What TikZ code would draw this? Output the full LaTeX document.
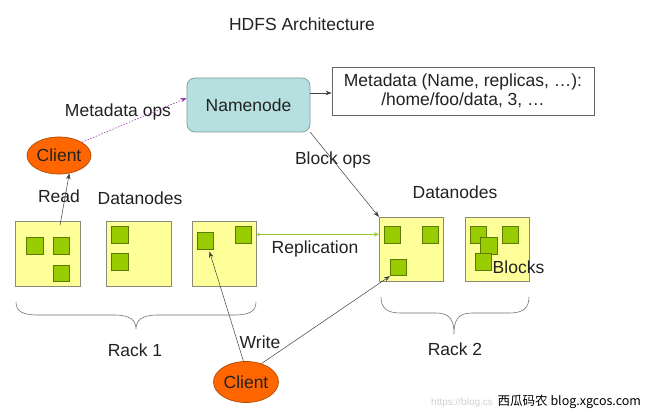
\documentclass[tikz,border=0pt]{standalone}
\usepackage{fontspec}
\setmainfont{Liberation Sans}
\newfontfamily\cjkfont{Noto Sans CJK SC}
\usetikzlibrary{arrows.meta,shapes.geometric,calc}
\definecolor{dnfill}{HTML}{FFFF99}
\definecolor{dnline}{HTML}{8A8A7A}
\definecolor{blkfill}{HTML}{99CC00}
\definecolor{blkline}{HTML}{5C7A00}
\definecolor{nnfill}{HTML}{B6DFE0}
\definecolor{nnline}{HTML}{7F9C9C}
\definecolor{clfill}{HTML}{FF6600}
\definecolor{clline}{HTML}{B04A00}
\definecolor{txt}{HTML}{222222}
\definecolor{opsline}{HTML}{9933AA}
\definecolor{repline}{HTML}{99CC33}
\tikzset{
  lbl/.style={text=txt, inner sep=0pt},
  dnbox/.style={draw=dnline, fill=dnfill, line width=0.7pt, minimum width=64.5pt, minimum height=64.5pt, inner sep=0pt},
  blk/.style={draw=blkline, fill=blkfill, line width=0.7pt, minimum width=16.5pt, minimum height=16.5pt, inner sep=0pt},
  client/.style={ellipse, draw=clline, fill=clfill, line width=0.7pt, inner sep=0pt, text=txt},
  arr/.style={draw=black!75, line width=0.5pt, -{Stealth[length=6pt,width=4.5pt]}},
  opsarr/.style={draw=opsline, line width=0.6pt, dash pattern=on 1.5pt off 1.5pt, -{Stealth[length=6pt,width=4.5pt]}},
  reparr/.style={draw=repline, line width=0.8pt, {Circle[length=3pt]}-{Stealth[length=5pt,width=4.5pt]}},
  bracepath/.style={draw=black!55, line width=0.6pt}
}
\begin{document}
\begin{tikzpicture}[x=1pt,y=-1pt, font=\fontsize{17.5}{19}\selectfont]
\useasboundingbox (0,0) rectangle (646,414);
\fill[white] (0,0) rectangle (646,414);

% title
\node[lbl] (title) at (302,24) {HDFS Architecture};

% namenode and metadata
\node[draw=nnline, fill=nnfill, line width=0.7pt, rounded corners=8pt, minimum width=123pt, minimum height=54pt, inner sep=0pt, text=txt] (nn) at (248.5,105) {Namenode};
\node[draw=black!60, fill=white, line width=0.7pt, minimum width=262pt, minimum height=48pt, inner sep=0pt, align=center, text=txt, font=\fontsize{17.5}{18.5}\selectfont] (meta) at (463,91) {Metadata (Name, replicas, \dots):\\/home/foo/data, 3, \dots};

% clients
\node[client, minimum width=64pt, minimum height=37pt] (c1) at (59,155.5) {Client};
\node[client, minimum width=65pt, minimum height=41pt] (c2) at (246,382) {Client};

% datanodes rack 1
\node[dnbox] (r1a) at (48,254) {};
\node[dnbox] (r1b) at (139,254) {};
\node[dnbox] (r1c) at (224.5,254) {};
% datanodes rack 2
\node[dnbox] (r2a) at (411.5,249.5) {};
\node[dnbox] (r2b) at (497.5,249.5) {};

% blocks
\node[blk] (b1a) at (35,246) {};
\node[blk] (b1b) at (61.5,246) {};
\node[blk] (b1c) at (61.5,273.5) {};
\node[blk] (b2a) at (120,235) {};
\node[blk] (b2b) at (120,262) {};
\node[blk] (b3a) at (205.5,241) {};
\node[blk] (b3b) at (243.5,235) {};
\node[blk] (b4a) at (392.5,235) {};
\node[blk] (b4b) at (430.5,235) {};
\node[blk] (b4c) at (398.5,267.5) {};
\node[blk] (b5a) at (478.5,235) {};
\node[blk] (b5b) at (489,246) {};
\node[blk] (b5c) at (483.5,262) {};
\node[blk] (b5d) at (510.5,235) {};

% labels
\node[lbl] (lmops) at (118,112) {Metadata ops};
\node[lbl] (lread) at (59,196) {Read};
\node[lbl] (ldn1) at (140,198) {Datanodes};
\node[lbl] (ldn2) at (455,192) {Datanodes};
\node[lbl] (lbops) at (333,160) {Block ops};
\node[lbl] (lrep) at (315,249) {Replication};
\node[lbl] (lblocks) at (518.5,267) {Blocks};
\node[lbl] (lwrite) at (260,342) {Write};
\node[lbl] (lrack1) at (135,350) {Rack 1};
\node[lbl] (lrack2) at (455,349) {Rack 2};

% connectors
\draw[arr] ([yshift=12pt]nn.east) -- ([yshift=12pt]nn.east -| meta.west);
\draw[opsarr] (c1.30) -- ([yshift=7pt]nn.west);
\draw[arr] ([xshift=12pt,yshift=-4pt]r1a.north) -- (c1.-60);
\draw[arr] (nn.south east) -- (r2a.north west);
\draw[reparr] ([yshift=-13pt]r1c.north east) -- ([yshift=-13pt]r1c.north east -| r2a.west);
\draw[arr] (c2.97) -- ([xshift=4pt,yshift=-2pt]b3a.south);
\draw[arr] (c2.50) -- (b4c.south west);

% braces
\draw[bracepath] (16,302) .. controls (16,311) and (22,315) .. (38,315) -- (114,315)
  .. controls (130,315) and (136,320) .. (136,329)
  .. controls (136,320) and (142,315) .. (158,315) -- (234,315)
  .. controls (250,315) and (256,311) .. (256,302);
\draw[bracepath] (381,297) .. controls (381,307) and (386,313) .. (400,313) -- (436,313)
  .. controls (450,313) and (454,320) .. (454,334)
  .. controls (454,320) and (458,313) .. (472,313) -- (510,313)
  .. controls (524,313) and (529,307) .. (529,297);

% watermarks
\node[lbl, text=black!18, font=\fontsize{10}{10}\selectfont, anchor=west] (wm0) at (431,403) {https://blog.cs};
\node[fill=white, inner sep=0.5pt, anchor=west, text=black, font=\cjkfont\fontsize{12.5}{13}\selectfont] (wm) at (497,402) {西瓜码农 blog.xgcos.com};
\end{tikzpicture}
\end{document}
